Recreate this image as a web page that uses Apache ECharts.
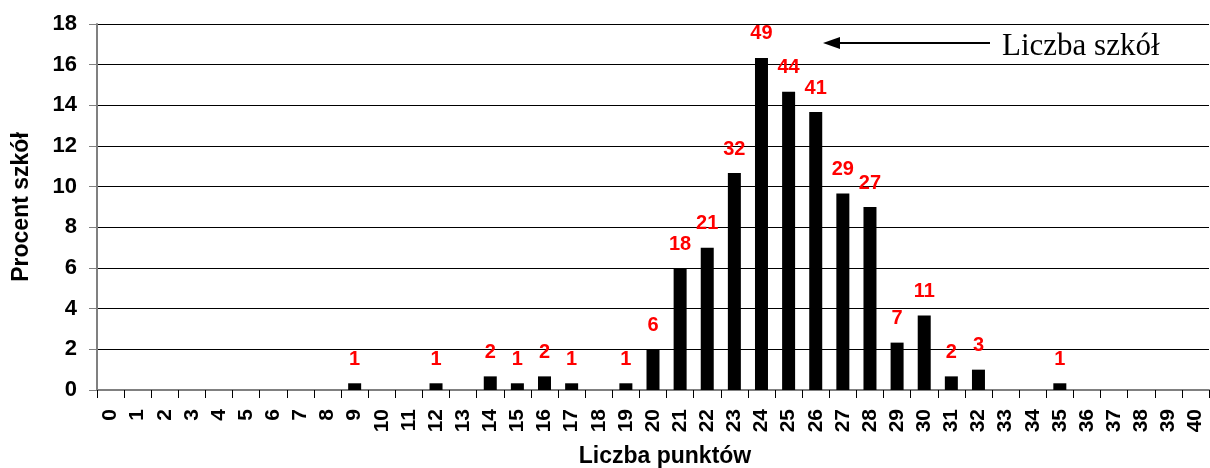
<!DOCTYPE html>
<html>
<head>
<meta charset="utf-8">
<script src="https://cdn.jsdelivr.net/npm/echarts@6/dist/echarts.min.js"></script>
<style>
html,body{margin:0;padding:0;background:#fff;}
#chart{width:1210px;height:468px;}
</style>
</head>
<body>
<div id="chart"></div>
<script>
const categories = ['0','1','2','3','4','5','6','7','8','9','10','11','12','13','14','15','16','17','18','19','20',
  '21','22','23','24','25','26','27','28','29','30','31','32','33','34','35','36','37','38','39','40'];
// percent of schools
const percentValues = [0,0,0,0,0,0,0,0,0,0.33,0,0,0.33,0,0.67,0.33,0.67,0.33,0,0.33,2.0,
  6.0,7.0,10.67,16.33,14.67,13.67,9.67,9.0,2.33,3.67,0.67,1.0,0,0,0.33,0,0,0,0,0];
// number of schools (red labels)
const schoolCounts = [null,null,null,null,null,null,null,null,null,1,null,null,1,null,2,1,2,1,null,1,6,
  18,21,32,49,44,41,29,27,7,11,2,3,null,null,1,null,null,null,null,null];
const yTicks = {min: 0, max: 18, interval: 2};
const yTitle = 'Procent szkół';
const xTitle = 'Liczba punktów';
const noteText = 'Liczba szkół';

const FONT = 'Arial, "Liberation Sans", sans-serif';
const chart = echarts.init(document.getElementById('chart'), null, {renderer: 'canvas'});
chart.setOption({
  animation: false,
  backgroundColor: '#fff',
  grid: {left: 97, right: 1, top: 24, bottom: 78, containLabel: false, outerBoundsMode: 'none'},
  xAxis: {
    type: 'category',
    data: categories,
    boundaryGap: true,
    name: xTitle,
    nameLocation: 'middle',
    nameGap: 55,
    nameTextStyle: {fontFamily: FONT, fontWeight: 'bold', fontSize: 23, color: '#000', padding: [0,0,0,24]},
    axisLine: {show: true, lineStyle: {color: '#808080', width: 2}},
    axisTick: {show: true, alignWithLabel: false, length: 8, lineStyle: {color: '#000', width: 1}},
    axisLabel: {interval: 0, rotate: 90, margin: 19, fontFamily: FONT, fontWeight: 'bold', fontSize: 21, color: '#000'},
    splitLine: {show: false}
  },
  yAxis: {
    type: 'value',
    min: yTicks.min, max: yTicks.max, interval: yTicks.interval,
    name: yTitle,
    nameLocation: 'middle',
    nameGap: 64,
    nameRotate: 90,
    nameTextStyle: {fontFamily: FONT, fontWeight: 'bold', fontSize: 23, color: '#000'},
    axisLine: {show: true, lineStyle: {color: '#808080', width: 2}},
    axisTick: {show: true, length: 8, lineStyle: {color: '#808080', width: 1}},
    axisLabel: {margin: 20, fontFamily: FONT, fontWeight: 'bold', fontSize: 22, color: '#000'},
    splitLine: {show: true, lineStyle: {color: '#000', width: 1}}
  },
  series: [{
    type: 'bar',
    data: percentValues,
    barWidth: 13,
    itemStyle: {color: '#000'},
    label: {
      show: true,
      position: 'top',
      distance: 14,
      fontFamily: FONT,
      fontWeight: 'bold',
      fontSize: 20,
      color: '#ff0000',
      formatter: p => schoolCounts[p.dataIndex] == null ? '' : String(schoolCounts[p.dataIndex])
    }
  }],
  graphic: [
    {type: 'line', shape: {x1: 836, y1: 43, x2: 990, y2: 43}, style: {stroke: '#000', lineWidth: 2}},
    {type: 'polygon', shape: {points: [[823, 43], [840, 37], [840, 49]]}, style: {fill: '#000'}},
    {type: 'text', x: 1002, y: 47, style: {text: noteText, font: '31px "Liberation Serif", "Times New Roman", serif', fill: '#000', verticalAlign: 'middle', textVerticalAlign: 'middle'}}
  ]
});
</script>
</body>
</html>
